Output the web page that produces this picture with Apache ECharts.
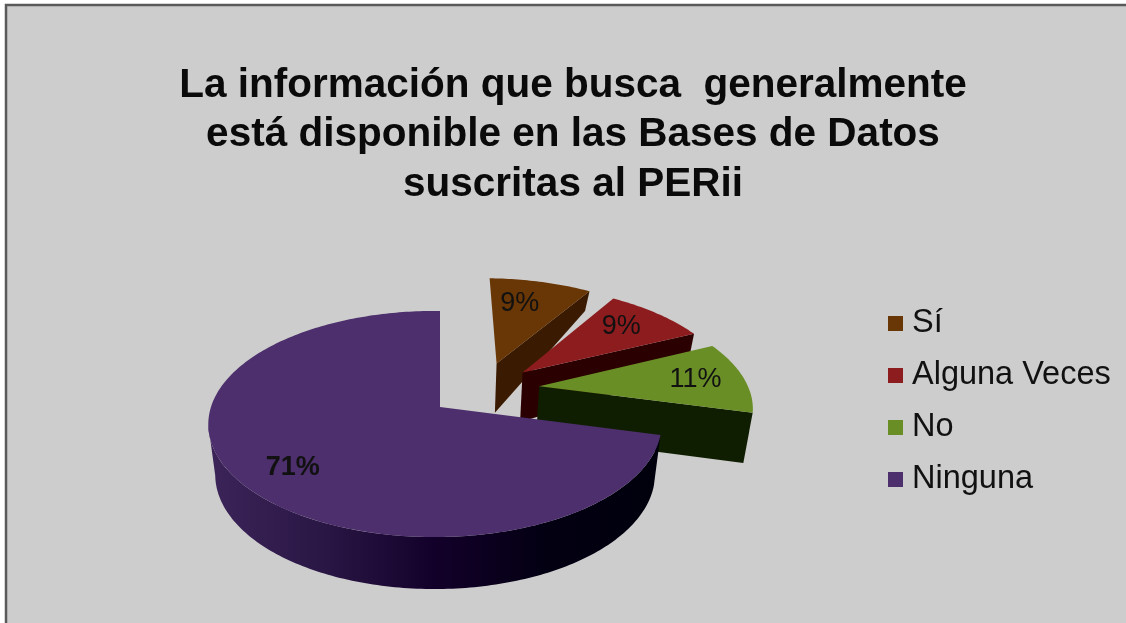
<!DOCTYPE html>
<html lang="es">
<head>
<meta charset="utf-8">
<style>html,body{margin:0;padding:0;background:#fff}#c{width:1126px;height:623px}</style>
<script src="https://cdn.jsdelivr.net/npm/echarts@6/dist/echarts.min.js"></script>
</head>
<body>
<div id="c"></div>
<script>
var titleLines = ['La información que busca  generalmente', 'está disponible en las Bases de Datos', 'suscritas al PERii'];
var categories = ['Sí', 'Alguna Veces', 'No', 'Ninguna'];
var percents = [9, 9, 11, 71];

var topColors = ['#693606', '#8c1c1e', '#6a8e26', '#4c2f6c'];
var wallColors = ['#3a1a00', '#2a0000', '#0f1e00', null];
var explodeU = [0.27, 0.39, 0.46, 0];
var explodeV = [0.42, 0.33, 0.195, 0];
var labelRadius = [0.7, 0.74, 0.76, 0.78];
var labelTurn = [-4, -2, 0, -2];

var cx = 440, cy = 407, R = 224, RY = 110.5, P = 0.15, Q = 0.022;
var total = percents.reduce(function (a, b) { return a + b; }, 0);
var startDeg = 0;

function project(u, v) {
  var d = 1 + P * v + Q * u;
  return [cx + R * u / d, cy - RY * v / d];
}
function projectLow(u, v) {
  var p = project(u, v);
  var depth = v < 0.45 ? 50 - v * 2 : 49.1 - (v - 0.45) * 36;
  return [cx + (p[0] - cx) * 0.97, p[1] + depth];
}
function polar(a, r, i, fn) {
  var t = a * Math.PI / 180;
  return fn(r * Math.sin(t) + explodeU[i], r * Math.cos(t) + explodeV[i]);
}
function arcPoints(a0, a1, i, fn) {
  var pts = [], n = Math.max(2, Math.ceil(Math.abs(a1 - a0)));
  for (var k = 0; k <= n; k++) pts.push(polar(a0 + (a1 - a0) * k / n, 1, i, fn));
  return pts;
}
function sliceAngles(i) {
  var before = 0;
  for (var k = 0; k < i; k++) before += percents[k];
  return [startDeg + before / total * 360, startDeg + (before + percents[i]) / total * 360];
}
var wallGradient = {
  type: 'linear', x: 0, y: 0, x2: 1, y2: 0,
  colorStops: [
    { offset: 0, color: '#3c2459' }, { offset: 0.25, color: '#2a1745' },
    { offset: 0.5, color: '#13002a' }, { offset: 0.75, color: '#030012' },
    { offset: 1, color: '#00000c' }
  ]
};
function makeRender(i) {
  return function () {
    var a = sliceAngles(i), a0 = a[0], a1 = a[1], children = [];
    var apexT = polar(0, 0, i, project), apexB = polar(0, 0, i, projectLow);
    if (i < 3) {
      var endT = polar(a1, 1, i, project), endB = polar(a1, 1, i, projectLow);
      children.push({ type: 'polygon', shape: { points: [apexT, endT, endB, apexB] }, style: { fill: wallColors[i] } });
    } else {
      var lo = arcPoints(a0, 261, i, project), hi = arcPoints(a0, 261, i, projectLow).reverse();
      children.push({ type: 'polygon', shape: { points: lo.concat(hi) }, style: { fill: wallGradient } });
    }
    var top = [apexT].concat(arcPoints(a0, a1, i, project));
    children.push({ type: 'polygon', shape: { points: top }, style: { fill: topColors[i] } });
    var lp = polar((a0 + a1) / 2 + labelTurn[i], labelRadius[i], i, project);
    children.push({
      type: 'text', x: lp[0], y: lp[1],
      style: {
        text: percents[i] + '%', fill: '#111', align: 'center', verticalAlign: 'middle',
        font: (i === 3 ? 'bold ' : '') + '27px "Liberation Sans", Arial, sans-serif'
      }
    });
    return { type: 'group', children: children };
  };
}

var chart = echarts.init(document.getElementById('c'), null, { renderer: 'canvas' });
chart.setOption({
  animation: false,
  backgroundColor: '#ffffff',
  graphic: [{
    type: 'rect', silent: true, z: -10,
    shape: { x: 6, y: 5, width: 1140, height: 640 },
    style: { fill: '#cdcdcd', stroke: '#5a5a5a', lineWidth: 2.5 }
  }],
  title: {
    text: titleLines.join('\n'),
    left: 568, top: 56, textAlign: 'center',
    textStyle: { fontFamily: '"Liberation Sans", Arial, sans-serif', fontWeight: 'bold', fontSize: 40.5, lineHeight: 49.5, color: '#0a0a0a' }
  },
  legend: {
    orient: 'vertical', left: 883, top: 302,
    itemWidth: 15, itemHeight: 15, itemGap: 19,
    icon: 'rect',
    data: categories,
    textStyle: { fontFamily: '"Liberation Sans", Arial, sans-serif', fontSize: 32.5, color: '#111', padding: [0, 0, 2, 4] }
  },
  series: categories.map(function (name, i) {
    return {
      type: 'custom', name: name, coordinateSystem: 'none', silent: true,
      itemStyle: { color: topColors[i] },
      data: [{ name: name, value: percents[i] }],
      renderItem: makeRender(i)
    };
  })
});
</script>
</body>
</html>
